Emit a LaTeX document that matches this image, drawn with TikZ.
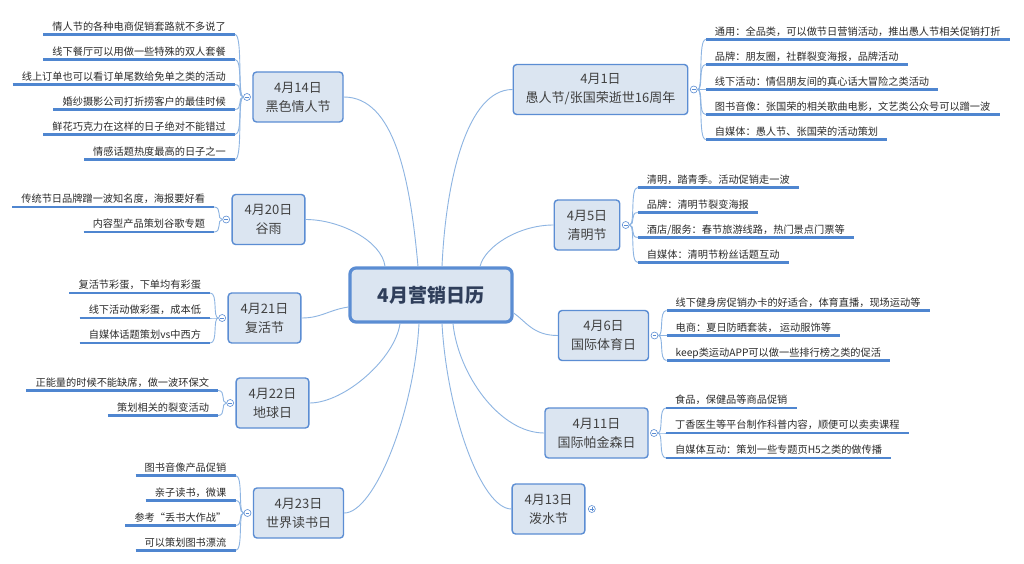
\documentclass[tikz,border=0pt]{standalone}
\usepackage{fontspec}
\setmainfont{Noto Sans CJK SC}
\usetikzlibrary{positioning,calc}
\definecolor{boxfill}{HTML}{DBE5F1}
\definecolor{boxline}{HTML}{5B8DD3}
\definecolor{limbcol}{HTML}{8DB4E2}
\definecolor{ulinecol}{HTML}{4F86D0}
\definecolor{hubtext}{HTML}{2F3E5A}
\definecolor{daytext}{HTML}{404040}
\definecolor{leaftext}{HTML}{2B2B2B}

\begin{document}
\begin{tikzpicture}[
  x=1pt, y=-1pt,
  hub/.style={draw=boxline, line width=3.2pt, fill=boxfill,
    rounded corners=6pt, minimum width=162pt, minimum height=54pt,
    font=\fontsize{19}{23}\selectfont\bfseries, text=hubtext},
  day/.style={draw=boxline, line width=1.4pt, fill=boxfill,
    rounded corners=3.5pt, minimum height=50pt, inner xsep=12.5pt,
    align=center, font=\fontsize{13}{19}\selectfont, text=daytext},
  leaf/.style={inner xsep=9pt, inner ysep=2.5pt, text height=8pt,
    text depth=1.5pt, font=\fontsize{10.2}{12}\selectfont, text=leaftext},
  leafL/.style={leaf, anchor=south east},
  leafR/.style={leaf, anchor=south west},
  uline/.style={draw=ulinecol, line width=2.6pt},
  limb/.style={draw=limbcol, line width=0.9pt},
  twig/.style={draw=limbcol, line width=0.9pt},
  fold/.style={circle, draw=boxline, fill=white, line width=0.6pt,
    minimum size=7pt, inner sep=0pt,
    path picture={\draw[boxline, line width=0.5pt]
      ([xshift=1.6pt]path picture bounding box.west) --
      ([xshift=-1.6pt]path picture bounding box.east);}},
  unfold/.style={fold,
    path picture={\draw[boxline, line width=0.5pt]
      ([xshift=1.6pt]path picture bounding box.west) --
      ([xshift=-1.6pt]path picture bounding box.east)
      ([yshift=-1.6pt]path picture bounding box.north) --
      ([yshift=1.6pt]path picture bounding box.south);}}
]

\fill[white] (0,0) rectangle (1024,564);
\useasboundingbox (0,0) rectangle (1024,564);

% 中心
\node[hub] (hub) at (431,295) {4月营销日历};

% 左側の枝
\node[day] (b14) at (298,97) {4月14日\\黑色情人节};
\node[fold, left=1.5pt of b14] (c14) {};
\foreach \t [count=\i] in {
  {情人节的各种电商促销套路就不多说了},
  {线下餐厅可以用做一些特殊的双人套餐},
  {线上订单也可以看订单尾数给免单之类的活动},
  {婚纱摄影公司打折捞客户的最佳时候},
  {鲜花巧克力在这样的日子绝对不能错过},
  {情感话题热度最高的日子之一}}{
  \node[leafL] (l14-\i) at ($(c14)+(-12,{(\i-3.5)*25})$) {\t};
  \draw[twig] (c14.west) .. controls +(-6,0) and +(8,0) .. (l14-\i.south east);
  \draw[uline] (l14-\i.south west) -- (l14-\i.south east);
}

\node[day] (b20) at (268.5,219.5) {4月20日\\谷雨};
\node[fold, left=1.5pt of b20] (c20) {};
\foreach \t [count=\i] in {
  {传统节日品牌蹭一波知名度，海报要好看},
  {内容型产品策划谷歌专题}}{
  \node[leafL] (l20-\i) at ($(c20)+(-12,{(\i-1.5)*25})$) {\t};
  \draw[twig] (c20.west) .. controls +(-6,0) and +(8,0) .. (l20-\i.south east);
  \draw[uline] (l20-\i.south west) -- (l20-\i.south east);
}

\node[day] (b21) at (264.5,318) {4月21日\\复活节};
\node[fold, left=1.5pt of b21] (c21) {};
\foreach \t [count=\i] in {
  {复活节彩蛋，下单均有彩蛋},
  {线下活动做彩蛋，成本低},
  {自媒体话题策划vs中西方}}{
  \node[leafL] (l21-\i) at ($(c21)+(-12,{(\i-2)*25})$) {\t};
  \draw[twig] (c21.west) .. controls +(-6,0) and +(8,0) .. (l21-\i.south east);
  \draw[uline] (l21-\i.south west) -- (l21-\i.south east);
}

\node[day] (b22) at (272.5,403) {4月22日\\地球日};
\node[fold, left=1.5pt of b22] (c22) {};
\foreach \t [count=\i] in {
  {正能量的时候不能缺席，做一波环保文},
  {策划相关的裂变活动}}{
  \node[leafL] (l22-\i) at ($(c22)+(-12,{(\i-1.5)*25})$) {\t};
  \draw[twig] (c22.west) .. controls +(-6,0) and +(8,0) .. (l22-\i.south east);
  \draw[uline] (l22-\i.south west) -- (l22-\i.south east);
}

\node[day] (b23) at (298.5,513) {4月23日\\世界读书日};
\node[fold, left=1.5pt of b23] (c23) {};
\foreach \t [count=\i] in {
  {图书音像产品促销},
  {亲子读书，微课},
  {参考“丢书大作战”},
  {可以策划图书漂流}}{
  \node[leafL] (l23-\i) at ($(c23)+(-12,{(\i-2.5)*25})$) {\t};
  \draw[twig] (c23.west) .. controls +(-6,0) and +(8,0) .. (l23-\i.south east);
  \draw[uline] (l23-\i.south west) -- (l23-\i.south east);
}

% 右側の枝
\node[day] (b1) at (600.5,89.5) {4月1日\\愚人节/张国荣逝世16周年};
\node[fold, right=1.5pt of b1] (c1) {};
\foreach \t [count=\i] in {
  {通用：全品类，可以做节日营销活动，推出愚人节相关促销打折},
  {品牌：朋友圈，社群裂变海报，品牌活动},
  {线下活动：情侣朋友间的真心话大冒险之类活动},
  {图书音像：张国荣的相关歌曲电影，文艺类公众号可以蹭一波},
  {自媒体：愚人节、张国荣的活动策划}}{
  \node[leafR] (l1-\i) at ($(c1)+(12,{(\i-3)*25})$) {\t};
  \draw[twig] (c1.east) .. controls +(6,0) and +(-8,0) .. (l1-\i.south west);
  \draw[uline] (l1-\i.south west) -- (l1-\i.south east);
}

\node[day] (b5) at (587,225) {4月5日\\清明节};
\node[fold, right=1.5pt of b5] (c5) {};
\foreach \t [count=\i] in {
  {清明，踏青季。活动促销走一波},
  {品牌：清明节裂变海报},
  {酒店/服务：春节旅游线路，热门景点门票等},
  {自媒体：清明节粉丝话题互动}}{
  \node[leafR] (l5-\i) at ($(c5)+(12,{(\i-2.5)*25})$) {\t};
  \draw[twig] (c5.east) .. controls +(6,0) and +(-8,0) .. (l5-\i.south west);
  \draw[uline] (l5-\i.south west) -- (l5-\i.south east);
}

\node[day] (b6) at (603.5,335.5) {4月6日\\国际体育日};
\node[fold, right=1.5pt of b6] (c6) {};
\foreach \t [count=\i] in {
  {线下健身房促销办卡的好适合，体育直播，现场运动等},
  {电商：夏日防晒套装， 运动服饰等},
  {keep类运动APP可以做一些排行榜之类的促活}}{
  \node[leafR] (l6-\i) at ($(c6)+(12,{(\i-2)*25})$) {\t};
  \draw[twig] (c6.east) .. controls +(6,0) and +(-8,0) .. (l6-\i.south west);
  \draw[uline] (l6-\i.south west) -- (l6-\i.south east);
}

\node[day] (b11) at (596.5,433) {4月11日\\国际帕金森日};
\node[fold, right=1.5pt of b11] (c11) {};
\foreach \t [count=\i] in {
  {食品，保健品等商品促销},
  {丁香医生等平台制作科普内容，顺便可以卖卖课程},
  {自媒体互动：策划一些专题页H5之类的做传播}}{
  \node[leafR] (l11-\i) at ($(c11)+(12,{(\i-2)*25})$) {\t};
  \draw[twig] (c11.east) .. controls +(6,0) and +(-8,0) .. (l11-\i.south west);
  \draw[uline] (l11-\i.south west) -- (l11-\i.south east);
}

\node[day] (b13) at (548.5,509) {4月13日\\泼水节};
\node[unfold, right=2.5pt of b13] (c13) {};

% 中心から各枝へ
\draw[limb] ([xshift=-13pt]hub.north) .. controls +(-8,-90) and +(50,0) .. (b14.east);
\draw[limb] ([xshift=-46pt]hub.north) .. controls +(-3,-25) and +(35,0) .. (b20.east);
\draw[limb] ([xshift=11pt]hub.north) .. controls +(4,-88) and +(-45,0) .. (b1.west);
\draw[limb] ([xshift=49pt]hub.north) .. controls +(5,-20) and +(-35,0) .. (b5.west);
\draw[limb] ([yshift=-12pt]hub.west) .. controls +(-20,3) and +(20,0) .. (b21.east);
\draw[limb] ([yshift=-18pt]hub.east) .. controls +(12,8) and +(-25,0) .. (b6.west);
\draw[limb] ([xshift=-31pt]hub.south) .. controls +(-5,35) and +(35,0) .. (b22.east);
\draw[limb] ([xshift=-12pt]hub.south) .. controls +(-5,90) and +(30,0) .. (b23.east);
\draw[limb] ([xshift=11pt]hub.south) .. controls +(5,90) and +(-30,0) .. (b13.west);
\draw[limb] ([xshift=22pt]hub.south) .. controls +(5,50) and +(-45,0) .. (b11.west);

\end{tikzpicture}
\end{document}
